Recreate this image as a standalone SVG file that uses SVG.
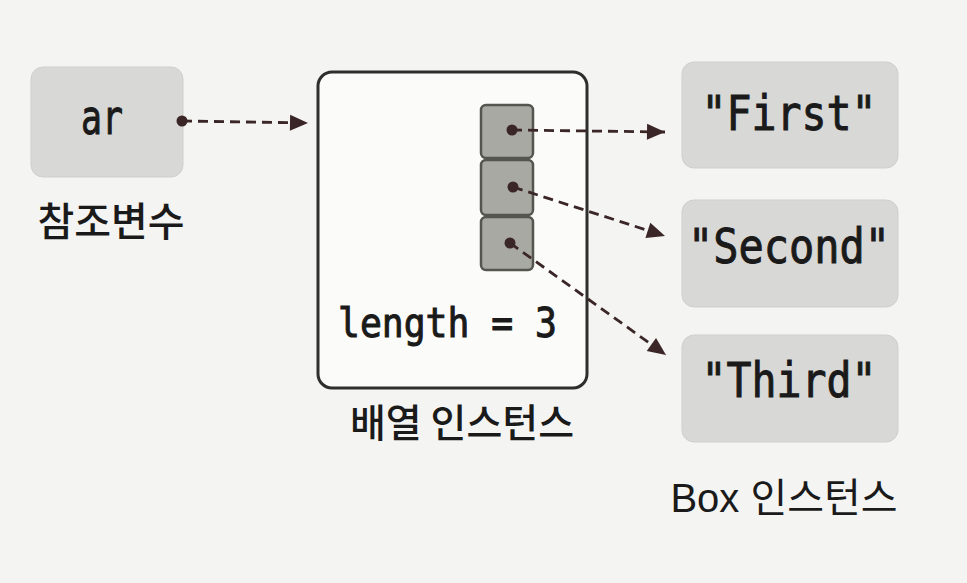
<svg xmlns="http://www.w3.org/2000/svg" width="967" height="583" viewBox="0 0 967 583">
<defs>
<style>
.box{fill:#d8d8d6;stroke:#cfcfcc;stroke-width:1}
.cell{fill:#a9a9a3;stroke:#555550;stroke-width:2.5}
.arr{fill:#fbfbf9;stroke:#2e2e2e;stroke-width:3}
.mono{font-family:"DejaVu Sans Mono","Liberation Mono",monospace;fill:#1a1a1a;stroke:#1a1a1a;stroke-width:1}
.kr{font-family:"Noto Sans CJK KR","Noto Sans",sans-serif;fill:#1a1a1a;font-weight:500}
.lat{font-family:"Liberation Sans","Noto Sans CJK KR",sans-serif;fill:#1a1a1a}
.con{fill:none;stroke:#3a2626;stroke-width:2.8;stroke-dasharray:10 6}
.dot{fill:#3a2626}
</style>
<marker id="ah" markerUnits="userSpaceOnUse" markerWidth="22" markerHeight="22" viewBox="0 0 22 22" refX="20" refY="11" orient="auto">
<path d="M2,3 L20,11 L2,19 Z" fill="#3a2626"/>
</marker>
</defs>
<rect x="0" y="0" width="967" height="583" fill="#f4f4f2"/>
<g id="ar">
<rect class="box" x="31" y="67" width="152" height="110" rx="12"/>
<text class="mono" x="102" y="134" font-size="48" text-anchor="middle" textLength="42" lengthAdjust="spacingAndGlyphs">ar</text>
<text class="kr" x="111" y="236" font-size="40" text-anchor="middle">참조변수</text>
</g>
<g id="array">
<rect class="arr" x="318" y="72" width="269" height="316" rx="14"/>
<rect class="cell" x="481" y="105" width="52" height="53" rx="5"/>
<rect class="cell" x="481" y="160" width="52" height="55" rx="5"/>
<rect class="cell" x="481" y="217" width="52" height="53" rx="5"/>
<text class="mono" x="338" y="337" font-size="40" textLength="219" lengthAdjust="spacingAndGlyphs">length = 3</text>
<text class="kr" x="462" y="437" font-size="39" text-anchor="middle">배열 인스턴스</text>
</g>
<g id="first">
<rect class="box" x="682" y="62" width="216" height="106" rx="12"/>
<text class="mono" x="789" y="130" font-size="48" text-anchor="middle" textLength="175" lengthAdjust="spacingAndGlyphs">"First"</text>
</g>
<g id="second">
<rect class="box" x="682" y="200" width="216" height="107" rx="12"/>
<text class="mono" x="789" y="263" font-size="48" text-anchor="middle" textLength="202" lengthAdjust="spacingAndGlyphs">"Second"</text>
</g>
<g id="third">
<rect class="box" x="682" y="335" width="216" height="107" rx="12"/>
<text class="mono" x="789" y="397" font-size="48" text-anchor="middle" textLength="175" lengthAdjust="spacingAndGlyphs">"Third"</text>
<text class="lat" x="784" y="512" font-size="40" text-anchor="middle">Box 인스턴스</text>
</g>
<g id="connectors">
<circle class="dot" cx="182" cy="121" r="5.5"/>
<path class="con" d="M182,121 L308,123" marker-end="url(#ah)"/>
<circle class="dot" cx="512" cy="130" r="5.5"/>
<path class="con" d="M512,130 L665,132" marker-end="url(#ah)"/>
<circle class="dot" cx="513" cy="187" r="5.5"/>
<path class="con" d="M513,187 L665,236" marker-end="url(#ah)"/>
<circle class="dot" cx="510" cy="243" r="5.5"/>
<path class="con" d="M510,243 L666,355" marker-end="url(#ah)"/>
</g>
</svg>
